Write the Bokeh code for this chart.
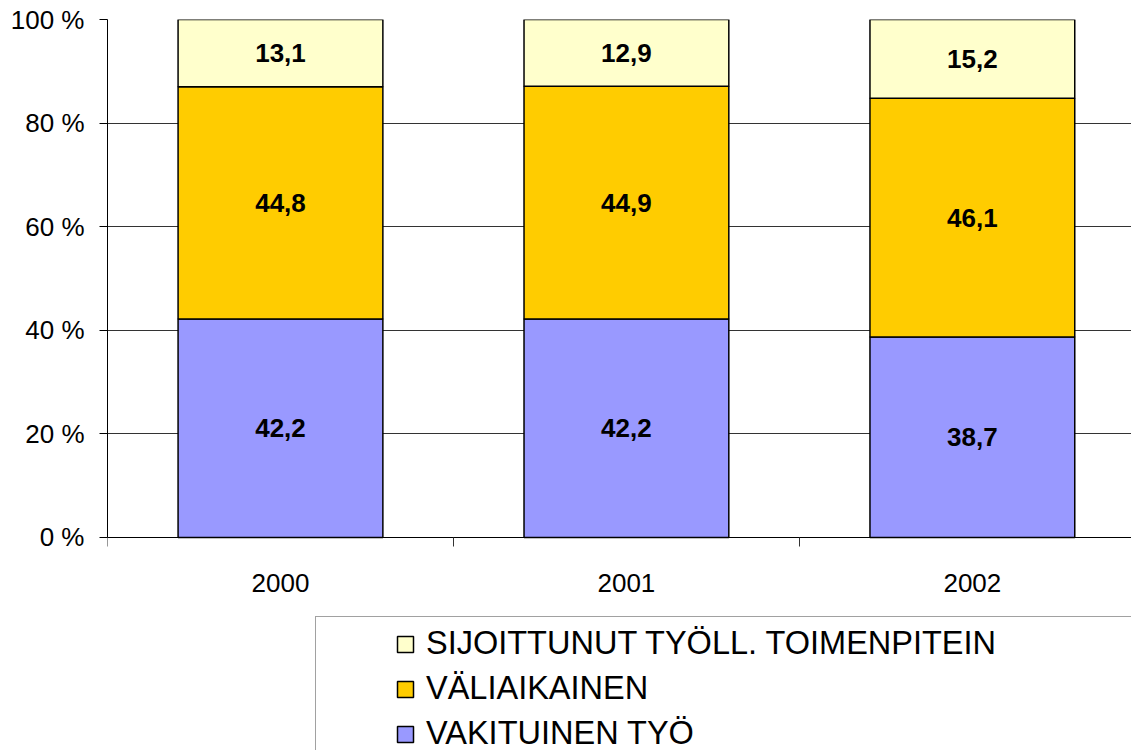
from bokeh.plotting import figure
from bokeh.models import Range1d, FixedTicker, Legend, LegendItem
from bokeh.embed import file_html
from bokeh.resources import INLINE
from bokeh.core.properties import value

# ---- data ----
years = ["2000", "2001", "2002"]
vakituinen = [42.2, 42.2, 38.7]
valiaikainen = [44.8, 44.9, 46.1]
sijoittunut = [13.1, 12.9, 15.2]
series_names = ["VAKITUINEN TYÖ", "VÄLIAIKAINEN", "SIJOITTUNUT TYÖLL. TOIMENPITEIN"]
series_colors = ["#9999FF", "#FFCC00", "#FFFFCC"]
y_ticks = [0, 20, 40, 60, 80, 100]

series = [vakituinen, valiaikainen, sijoittunut]
centers = [i + 0.5 for i in range(len(years))]
bounds = [float(i) for i in range(len(years) + 1)]

FONT = "Liberation Sans"

# frame reaches the bottom of the window; the value axis spans 0..100 only
p = figure(frame_width=1024, frame_height=731, output_backend="svg",
           toolbar_location=None,
           x_range=Range1d(0, 2.96), y_range=Range1d(-41.12, 100),
           min_border_left=107, min_border_right=0, min_border_top=19,
           min_border_bottom=0)
p.outline_line_color = None
p.background_fill_color = "white"
p.border_fill_color = "white"

renderers = []
bottoms = [0.0] * len(years)
for vals, col in zip(series, series_colors):
    tops = [b + v for b, v in zip(bottoms, vals)]
    r = p.vbar(x=centers, width=0.592, bottom=bottoms, top=tops,
               fill_color=col, line_color="black", line_width=1.5)
    renderers.append(r)
    mids = [(b + t) / 2 for b, t in zip(bottoms, tops)]
    labels = [f"{v:.1f}".replace(".", ",") for v in vals]
    p.text(x=centers, y=mids, text=labels, text_font=value(FONT),
           text_font_style="bold", text_font_size="26px",
           text_align="center", text_baseline="middle", text_color="black")
    bottoms = tops

# grid
p.xgrid.visible = False
p.ygrid.ticker = FixedTicker(ticks=y_ticks)
p.ygrid.grid_line_color = "#333333"
p.ygrid.grid_line_width = 1

# x axis, pinned at value 0
p.xaxis.fixed_location = 0
p.xaxis.ticker = FixedTicker(ticks=centers, minor_ticks=bounds)
p.xaxis.major_label_overrides = {c: y for c, y in zip(centers, years)}
p.xaxis.major_tick_line_color = None
p.xaxis.major_tick_out = 0
p.xaxis.major_tick_in = 0
p.xaxis.minor_tick_line_color = "#333333"
p.xaxis.minor_tick_out = 9
p.xaxis.minor_tick_in = 0
p.xaxis.axis_line_color = "black"
p.xaxis.major_label_standoff = 28
p.xaxis.major_label_text_font = FONT
p.xaxis.major_label_text_font_size = "26px"
p.xaxis.major_label_text_color = "black"

# y axis
p.yaxis.bounds = (0, 100)
p.yaxis.ticker = FixedTicker(ticks=y_ticks)
p.yaxis.major_label_overrides = {t: f"{t} %" for t in y_ticks}
p.yaxis.major_tick_out = 8
p.yaxis.major_tick_in = 0
p.yaxis.minor_tick_line_color = None
p.yaxis.major_tick_line_color = "black"
p.yaxis.axis_line_color = "black"
p.yaxis.major_label_standoff = 15
p.yaxis.major_label_text_font = FONT
p.yaxis.major_label_text_font_size = "26px"
p.yaxis.major_label_text_color = "black"

items = [LegendItem(label=series_names[i], renderers=[renderers[i]])
         for i in reversed(range(len(series)))]
legend = Legend(items=items, location=(208, -11), margin=0, padding=8,
                spacing=8, glyph_width=20, glyph_height=20, label_height=37,
                label_width=760, label_standoff=11,
                title=" ", title_location="left", title_text_font_size="10px",
                title_standoff=60,
                label_text_font=FONT, label_text_font_size="32.5px",
                label_text_color="black",
                border_line_color="#444444", border_line_width=1.5,
                background_fill_color="white", background_fill_alpha=1)
p.add_layout(legend)

open("out.html", "w").write(file_html(p, INLINE))
